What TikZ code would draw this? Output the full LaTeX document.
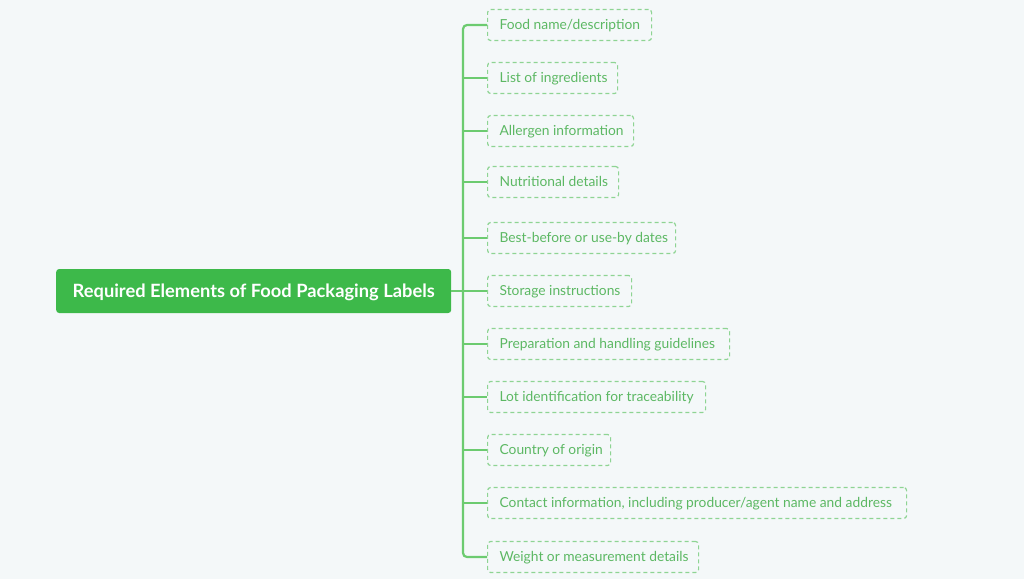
\documentclass[tikz,border=0pt]{standalone}
\usepackage{fontspec}
\setmainfont{Lato}
\definecolor{bg}{HTML}{F4F8F9}
\definecolor{rootc}{HTML}{3DB94A}
\definecolor{linec}{HTML}{6CCB70}
\definecolor{dashc}{HTML}{8ED493}
\definecolor{txtc}{HTML}{5CB863}
\begin{document}
\begin{tikzpicture}[x=1pt,y=-1pt,
  rootbox/.style={fill=rootc, rounded corners=3pt, text=white, font=\bfseries\fontsize{18.3}{21}\selectfont, inner sep=0pt, minimum height=44pt, minimum width=395pt, anchor=west},
  leaf/.style={draw=dashc, dashed, dash pattern=on 4pt off 3pt, line width=1.2pt, rounded corners=3pt, text=txtc, font=\fontsize{13.8}{15}\selectfont, minimum height=31pt, inner xsep=12pt, inner ysep=0pt, anchor=west},
  conn/.style={draw=linec, line width=2.2pt, rounded corners=4pt}]
\fill[bg] (0,0) rectangle (1024,579);
\useasboundingbox (0,0) rectangle (1024,579);
\node[rootbox] (root) at (56,291) {\raisebox{-6.5pt}[0pt][0pt]{Required Elements of Food Packaging Labels}};
\coordinate (trunk) at (463,291);
\foreach \i/\y/\w/\t in {
  1/25/140/{Food name/description},
  2/78/106/{List of ingredients},
  3/131/122/{Allergen information},
  4/182/107/{Nutritional details},
  5/238/164/{Best-before or use-by dates},
  6/291/120/{Storage instructions},
  7/344/218/{Preparation and handling guidelines},
  8/397/194/{Lot identification for traceability},
  9/450/99/{Country of origin},
  10/503/395/{Contact information, including producer/agent name and address},
  11/557/187/{Weight or measurement details}}{
  \node[leaf] (c\i) at (487,\y) {\makebox[\w pt][l]{\raisebox{-4.5pt}[0pt][0pt]{\t}}};
}
\draw[conn] (root.east) -- (c6.west);
\draw[conn] (c1.west) -| (trunk) |- (c11.west);
\foreach \i in {2,3,4,5,7,8,9,10}{
  \draw[conn] (trunk |- c\i.west) -- (c\i.west);
}
\end{tikzpicture}
\end{document}
